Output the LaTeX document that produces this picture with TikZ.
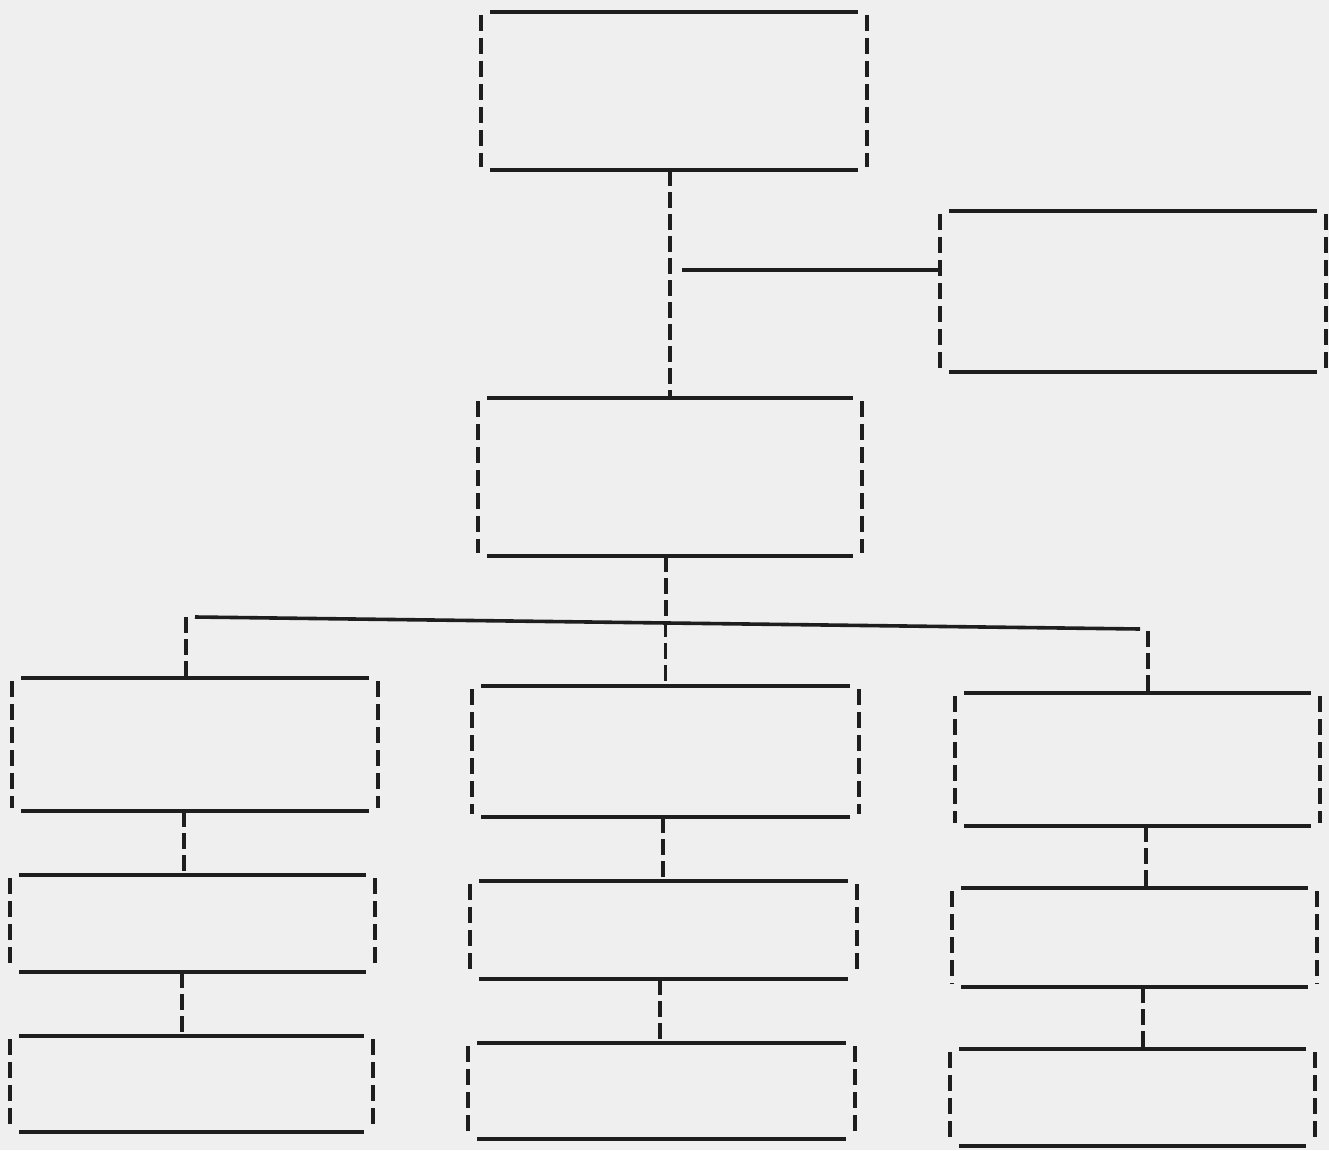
\documentclass[tikz,border=0pt]{standalone}
\usepackage{tikz}
\definecolor{paper}{HTML}{EFEFEF}
\definecolor{ink}{HTML}{1E1E1E}
\tikzset{
  obox/.style={draw=none, inner sep=0pt, outer sep=0pt},
  hrule/.style={draw=ink, line width=3.4pt},
  vrule/.style={draw=ink, line width=3.2pt, dash pattern=on 16pt off 7pt},
  conn/.style={draw=ink, line width=3.2pt, dash pattern=on 16pt off 6pt},
  hconn/.style={draw=ink, line width=3.6pt}
}
\newcommand{\orgframe}[1]{%
  \draw[hrule] ([xshift=9pt]#1.north west) -- ([xshift=-9pt]#1.north east);
  \draw[hrule] ([xshift=9pt]#1.south west) -- ([xshift=-9pt]#1.south east);
  \draw[vrule] ([yshift=-3pt]#1.north west) -- ([yshift=3pt]#1.south west);
  \draw[vrule] ([yshift=-3pt]#1.north east) -- ([yshift=3pt]#1.south east);
}
\begin{document}
\begin{tikzpicture}[x=1pt,y=-1pt]
\useasboundingbox[fill=paper] (0,0) rectangle (1329,1150);
% boxes
\node[obox, minimum width=386pt, minimum height=158pt] (A) at (674,91) {};
\node[obox, minimum width=386pt, minimum height=161pt] (B) at (1133,291.5) {};
\node[obox, minimum width=384pt, minimum height=158pt] (C) at (670,477) {};
\node[obox, minimum width=366pt, minimum height=133pt] (D1) at (195,744.5) {};
\node[obox, minimum width=387pt, minimum height=131pt] (D2) at (665.5,751.5) {};
\node[obox, minimum width=365pt, minimum height=133pt] (D3) at (1137.5,759.5) {};
\node[obox, minimum width=365pt, minimum height=97pt] (E1) at (192.5,923.5) {};
\node[obox, minimum width=387pt, minimum height=98pt] (E2) at (663.5,930) {};
\node[obox, minimum width=365pt, minimum height=99pt] (E3) at (1134.5,937.5) {};
\node[obox, minimum width=363pt, minimum height=96pt] (F1) at (191.5,1084) {};
\node[obox, minimum width=387pt, minimum height=96pt] (F2) at (661.5,1091) {};
\node[obox, minimum width=365pt, minimum height=97pt] (F3) at (1132.5,1097.5) {};
\foreach \n in {A,B,C,D1,D2,D3,E1,E2,E3,F1,F2,F3}{\orgframe{\n}}
% trunk A -> C with branch to B
\draw[conn] (C.north |- A.south) -- (C.north);
\coordinate (J) at (682,270);
\draw[hconn] (J) -- (J -| B.west);
% C -> bus
\coordinate (bl) at (195,617);
\coordinate (br) at (1140,629);
\coordinate (bm) at (666,623);
\draw[conn] (bm |- C.south) -- (bm);
\draw[hconn] (bl) -- (br);
\coordinate (d1) at (186,617);
\coordinate (d3) at (1148,631);
\draw[conn] (d1) -- (d1 |- D1.north);
\draw[conn] ([yshift=2pt]D2.north |- bm) -- (D2.north);
\draw[conn] (d3) -- (d3 |- D3.north);
% columns
\draw[conn] ([xshift=-11pt]D1.south) -- ([xshift=-11pt]D1.south |- E1.north);
\draw[conn] ([xshift=-10.5pt]E1.south) -- ([xshift=-10.5pt]E1.south |- F1.north);
\draw[conn] ([xshift=-2.5pt]D2.south) -- ([xshift=-2.5pt]D2.south |- E2.north);
\draw[conn] ([xshift=-3.5pt]E2.south) -- ([xshift=-3.5pt]E2.south |- F2.north);
\draw[conn] ([xshift=8.5pt]D3.south) -- ([xshift=8.5pt]D3.south |- E3.north);
\draw[conn] ([xshift=8.5pt]E3.south) -- ([xshift=8.5pt]E3.south |- F3.north);
\end{tikzpicture}
\end{document}
